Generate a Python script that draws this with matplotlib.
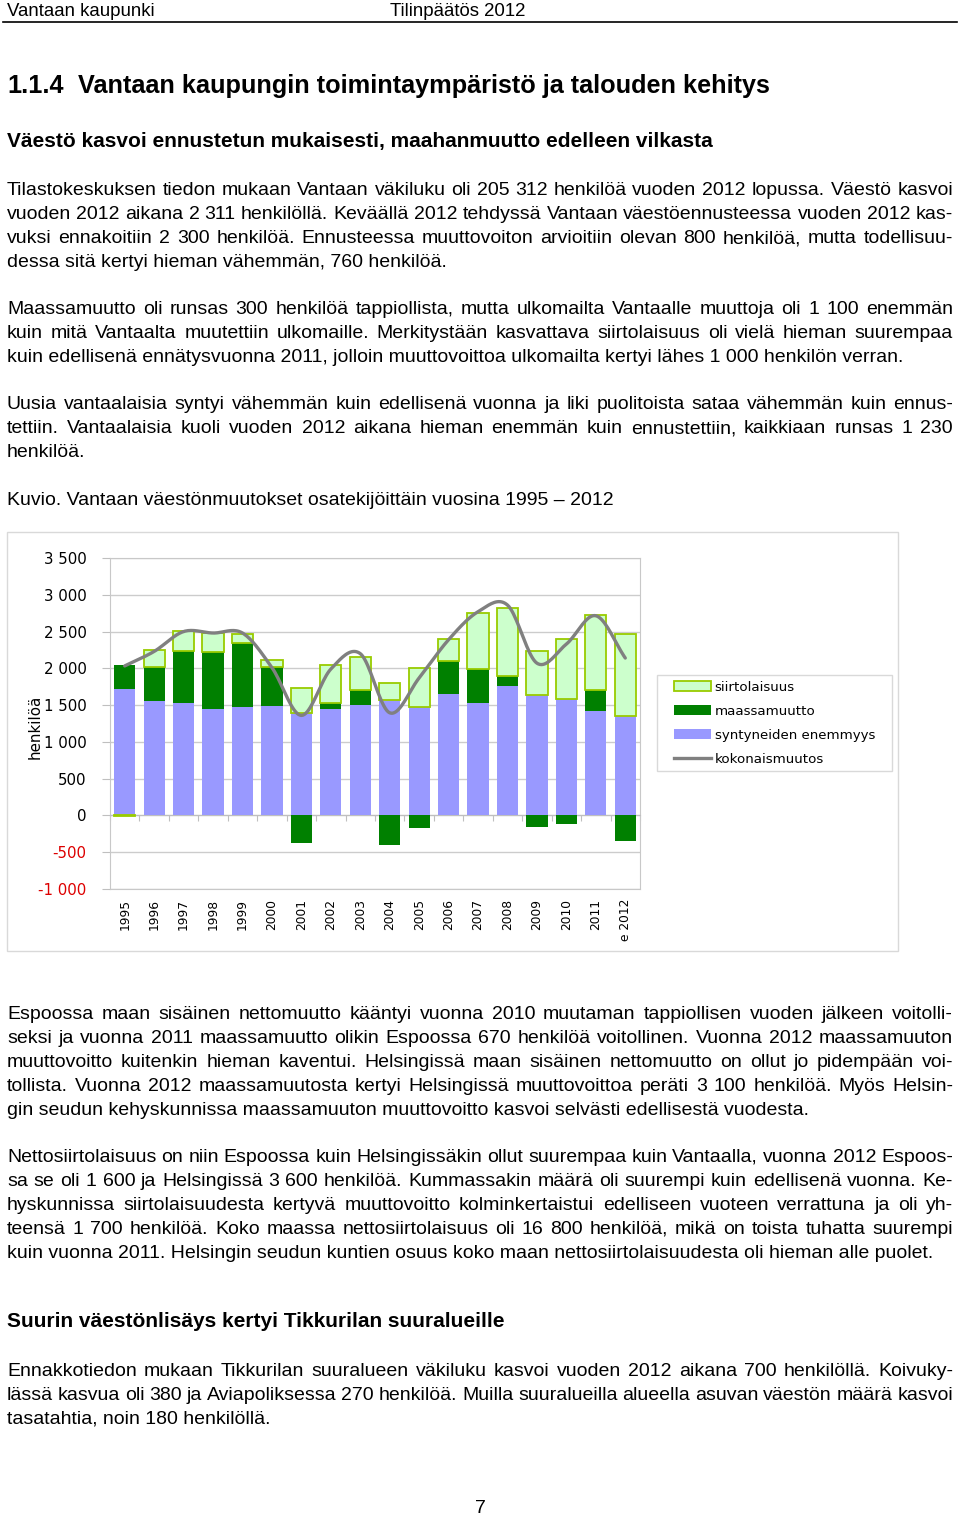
import matplotlib
matplotlib.use('Agg')
import matplotlib.pyplot as plt
from matplotlib.patches import Rectangle, Patch
from matplotlib.lines import Line2D
from matplotlib.transforms import Affine2D
import numpy as np

W, H = 960, 1516

# chart data
years = ['1995', '1996', '1997', '1998', '1999', '2000', '2001', '2002', '2003',
         '2004', '2005', '2006', '2007', '2008', '2009', '2010', '2011', 'e 2012']
syntyneet = [1720, 1561, 1534, 1452, 1475, 1489, 1393, 1448, 1498,
             1570, 1471, 1648, 1525, 1761, 1634, 1580, 1425, 1357]
maassamuutto = [323, 455, 704, 768, 876, 527, -373, 77, 209,
                -405, -177, 458, 472, 136, -163, -118, 282, -346]
siirtolaisuus = [-10, 235, 263, 267, 118, 99, 345, 518, 445,
                 228, 531, 299, 754, 922, 604, 825, 1021, 1108]
kokonais = [2033, 2230, 2500, 2480, 2480, 2010, 1360, 1990, 2200,
            1395, 1870, 2390, 2770, 2860, 2070, 2330, 2715, 2140]
yticks = [-1000, -500, 0, 500, 1000, 1500, 2000, 2500, 3000, 3500]

# page text
para1 = ["Tilastokeskuksen tiedon mukaan Vantaan väkiluku oli 205 312 henkilöä vuoden 2012 lopussa. Väestö kasvoi",
         "vuoden 2012 aikana 2 311 henkilöllä. Keväällä 2012 tehdyssä Vantaan väestöennusteessa vuoden 2012 kas-",
         "vuksi ennakoitiin 2 300 henkilöä. Ennusteessa muuttovoiton arvioitiin olevan 800 henkilöä, mutta todellisuu-",
         "dessa sitä kertyi hieman vähemmän, 760 henkilöä."]
para2 = ["Maassamuutto oli runsas 300 henkilöä tappiollista, mutta ulkomailta Vantaalle muuttoja oli 1 100 enemmän",
         "kuin mitä Vantaalta muutettiin ulkomaille. Merkitystään kasvattava siirtolaisuus oli vielä hieman suurempaa",
         "kuin edellisenä ennätysvuonna 2011, jolloin muuttovoittoa ulkomailta kertyi lähes 1 000 henkilön verran."]
para3 = ["Uusia vantaalaisia syntyi vähemmän kuin edellisenä vuonna ja liki puolitoista sataa vähemmän kuin ennus-",
         "tettiin. Vantaalaisia kuoli vuoden 2012 aikana hieman enemmän kuin ennustettiin, kaikkiaan runsas 1 230",
         "henkilöä."]
para4 = ["Espoossa maan sisäinen nettomuutto kääntyi vuonna 2010 muutaman tappiollisen vuoden jälkeen voitolli-",
         "seksi ja vuonna 2011 maassamuutto olikin Espoossa 670 henkilöä voitollinen. Vuonna 2012 maassamuuton",
         "muuttovoitto kuitenkin hieman kaventui. Helsingissä maan sisäinen nettomuutto on ollut jo pidempään voi-",
         "tollista. Vuonna 2012 maassamuutosta kertyi Helsingissä muuttovoittoa peräti 3 100 henkilöä. Myös Helsin-",
         "gin seudun kehyskunnissa maassamuuton muuttovoitto kasvoi selvästi edellisestä vuodesta."]
para5 = ["Nettosiirtolaisuus on niin Espoossa kuin Helsingissäkin ollut suurempaa kuin Vantaalla, vuonna 2012 Espoos-",
         "sa se oli 1 600 ja Helsingissä 3 600 henkilöä. Kummassakin määrä oli suurempi kuin edellisenä vuonna. Ke-",
         "hyskunnissa siirtolaisuudesta kertyvä muuttovoitto kolminkertaistui edelliseen vuoteen verrattuna ja oli yh-",
         "teensä 1 700 henkilöä. Koko maassa nettosiirtolaisuus oli 16 800 henkilöä, mikä on toista tuhatta suurempi",
         "kuin vuonna 2011. Helsingin seudun kuntien osuus koko maan nettosiirtolaisuudesta oli hieman alle puolet."]
para6 = ["Ennakkotiedon mukaan Tikkurilan suuralueen väkiluku kasvoi vuoden 2012 aikana 700 henkilöllä. Koivuky-",
         "lässä kasvua oli 380 ja Aviapoliksessa 270 henkilöä. Muilla suuralueilla alueella asuvan väestön määrä kasvoi",
         "tasatahtia, noin 180 henkilöllä."]

BODY = 14.0
FONT = 'Liberation Sans'


def catmull_rom(xv, yv, steps=20):
    # smooth line through the points, like Excel's "smoothed line"
    xv = np.asarray(xv, float)
    yv = np.asarray(yv, float)
    xp = np.concatenate([[2 * xv[0] - xv[1]], xv, [2 * xv[-1] - xv[-2]]])
    yp = np.concatenate([[2 * yv[0] - yv[1]], yv, [2 * yv[-1] - yv[-2]]])
    t = np.linspace(0, 1, steps, endpoint=False)
    ox, oy = [], []
    for i in range(1, len(xp) - 2):
        for arr, out in ((xp, ox), (yp, oy)):
            p0, p1, p2, p3 = arr[i - 1:i + 3]
            out.extend(0.5 * (2 * p1 + (p2 - p0) * t + (2 * p0 - 5 * p1 + 4 * p2 - p3) * t ** 2
                              + (3 * p1 - p0 - 3 * p2 + p3) * t ** 3))
    ox.append(xv[-1])
    oy.append(yv[-1])
    return np.array(ox), np.array(oy)


def fmt(v):
    s = f"{abs(v):,}".replace(',', ' ')
    return '-' + s if v < 0 else s


fig = plt.figure(figsize=(W / 100, H / 100), dpi=100)
pix = Affine2D().scale(1 / W, -1 / H).translate(0, 1) + fig.transFigure
renderer = fig.canvas.get_renderer()


def text_line(s, y, justify=False, size=BODY, weight='normal', x0=7, x1=953):
    words = s.split(' ') if justify else [s]
    arts = [fig.text(x0, y, w, transform=pix, fontsize=size, fontweight=weight,
                     family=FONT, va='baseline', ha='left') for w in words]
    if justify and len(arts) > 1:
        widths = [a.get_window_extent(renderer).width for a in arts]
        gap = (x1 - x0 - sum(widths)) / (len(arts) - 1)
        x = x0
        for a, w in zip(arts, widths):
            a.set_x(x)
            x += w + gap


def paragraph(lines, y0, step=24):
    for i, s in enumerate(lines):
        text_line(s, y0 + i * step, justify=(i < len(lines) - 1))


# header
text_line('Vantaan kaupunki', 15.5, size=13.4)
fig.text(390, 15.5, 'Tilinpäätös 2012', transform=pix, fontsize=13.4, family=FONT, va='baseline')
fig.add_artist(Line2D([3, 957], [22, 22], transform=pix, color='black', lw=1.2))

text_line('1.1.4', 93, size=18.2, weight='bold')
fig.text(78, 93, 'Vantaan kaupungin toimintaympäristö ja talouden kehitys', transform=pix,
         fontsize=18.2, fontweight='bold', family=FONT, va='baseline')
text_line('Väestö kasvoi ennustetun mukaisesti, maahanmuutto edelleen vilkasta', 147.5,
          size=15.0, weight='bold')

paragraph(para1, 195)
paragraph(para2, 314)
paragraph(para3, 409)
text_line('Kuvio. Vantaan väestönmuutokset osatekijöittäin vuosina 1995 – 2012', 505)

# chart frame
fig.add_artist(Rectangle((7, 532), 891, 419, transform=pix, fill=False, ec='#d9d9d9', lw=1))

ax = fig.add_axes([110 / W, 1 - 889 / H, 530 / W, 331 / H])
n = len(years)
x = np.arange(n)

series = [(syntyneet, '#9999ff', 'none'),
          (maassamuutto, '#008000', 'none'),
          (siirtolaisuus, '#ccffcc', '#99cc00')]
pos = np.zeros(n)
neg = np.zeros(n)
for vals, fc, ec in series:
    v = np.array(vals, float)
    bottom = np.where(v >= 0, pos, neg)
    ax.bar(x, v, 0.72, bottom=bottom, color=fc, edgecolor=ec,
           linewidth=1.3 if ec != 'none' else 0, zorder=3)
    pos += np.clip(v, 0, None)
    neg += np.clip(v, None, 0)

lx, ly = catmull_rom(x, kokonais)
ax.plot(lx, ly, color='#808080', lw=2.4, zorder=4, solid_capstyle='round')

ax.set_xlim(-0.5, n - 0.5)
ax.set_ylim(-1000, 3500)
ax.set_yticks(yticks)
ax.set_yticklabels([fmt(v) for v in yticks])
for lbl, v in zip(ax.get_yticklabels(), yticks):
    if v < 0:
        lbl.set_color('#dd0000')
ax.grid(axis='y', color='#cccccc', lw=1, zorder=0)
ax.set_axisbelow(True)
ax.tick_params(axis='y', length=6, color='#bfbfbf', labelsize=10.8, pad=11)

for side in ('left', 'right', 'top'):
    ax.spines[side].set_color('#c8c8c8')
ax.spines['bottom'].set_position(('data', 0))
ax.spines['bottom'].set_color('#bfbfbf')
ax.set_xticks(np.arange(-0.5, n, 1))
ax.set_xticklabels([])
ax.tick_params(axis='x', length=4, color='#bfbfbf', direction='out')

sec = ax.secondary_xaxis('bottom')
sec.set_xticks(x, labels=years, rotation=90)
sec.tick_params(length=0, labelsize=8.8, pad=7)
sec.spines['bottom'].set_color('#c8c8c8')

fig.text(35, 727, 'henkilöä', transform=pix, rotation=90, fontsize=10.8, ha='center', va='center')

# legend
fig.add_artist(Rectangle((657, 675), 235, 96, transform=pix, fill=False, ec='#d9d9d9', lw=1))
handles = [Patch(fc='#ccffcc', ec='#99cc00', lw=1.3), Patch(fc='#008000'),
           Patch(fc='#9999ff'), Line2D([], [], color='#808080', lw=2.4)]
labels = ['siirtolaisuus', 'maassamuutto', 'syntyneiden enemmyys', 'kokonaismuutos']
fig.legend(handles, labels, loc='upper left', bbox_to_anchor=(674 / W, 1 - 681 / H),
           frameon=False, fontsize=9.6, handlelength=2.8, handleheight=0.75,
           handletextpad=0.25, labelspacing=0.82, borderpad=0, borderaxespad=0)

paragraph(para4, 1019)
paragraph(para5, 1162)
text_line('Suurin väestönlisäys kertyi Tikkurilan suuralueille', 1327, size=15.0, weight='bold')
paragraph(para6, 1376)
fig.text(480, 1513, '7', transform=pix, fontsize=BODY, family=FONT, ha='center', va='baseline')

fig.savefig('out.png', dpi=100)
